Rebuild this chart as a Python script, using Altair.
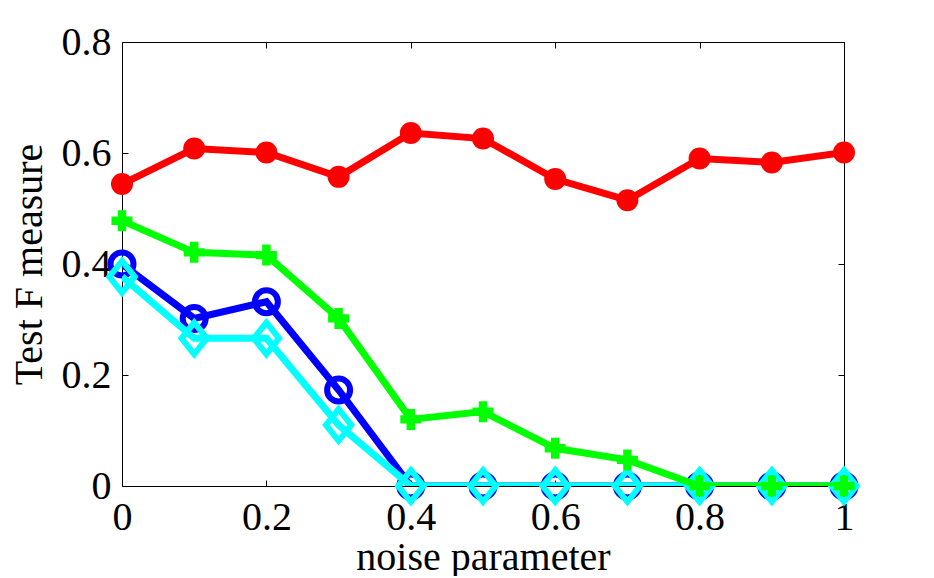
import altair as alt
import pandas as pd

noise = [0.0, 0.1, 0.2, 0.3, 0.4, 0.5, 0.6, 0.7, 0.8, 0.9, 1.0]
red_vals = [0.544, 0.608, 0.601, 0.557, 0.636, 0.626, 0.553, 0.515, 0.590, 0.583, 0.601]
blue_vals = [0.400, 0.302, 0.332, 0.173, 0.0, 0.0, 0.0, 0.0, 0.0, 0.0, 0.0]
cyan_vals = [0.377, 0.266, 0.266, 0.110, 0.0, 0.0, 0.0, 0.0, 0.0, 0.0, 0.0]
green_vals = [0.478, 0.421, 0.416, 0.302, 0.120, 0.134, 0.068, 0.047, 0.0, 0.0, 0.0]

x_ticks = [0, 0.2, 0.4, 0.6, 0.8, 1]
y_ticks = [0, 0.2, 0.4, 0.6, 0.8]

series = [
    ("red", red_vals, "#ff0000"),
    ("blue", blue_vals, "#0000ff"),
    ("cyan", cyan_vals, "#00ffff"),
    ("green", green_vals, "#00ff00"),
]

rows = []
for name, vals, _ in series:
    for x, y in zip(noise, vals):
        rows.append({"series": name, "noise": x, "f": y})
df = pd.DataFrame(rows)

FONT = "Liberation Serif"
x_scale = alt.Scale(domain=[0, 1], nice=False, zero=False)
y_scale = alt.Scale(domain=[0, 0.8], nice=False)

common = dict(domain=False, grid=False, ticks=True, tickSize=6, tickColor="black",
              tickWidth=1, offset=-6, labelFont=FONT, labelFontSize=40,
              labelColor="black", labelFlush=False, labelOverlap=False,
              titleFont=FONT, titleFontSize=40, titleFontWeight="normal",
              titleColor="black", format="~g")

x_bottom = alt.Axis(orient="bottom", values=x_ticks, title="noise parameter",
                    labelPadding=11, titlePadding=0, **common)
y_left = alt.Axis(orient="left", values=y_ticks, title="Test F measure",
                  labelPadding=11, titlePadding=12, **common)
x_top = alt.Axis(orient="top", values=x_ticks, labels=False, title=None, **common)
y_right = alt.Axis(orient="right", values=y_ticks, labels=False, title=None, **common)

diamond = "M0,-1L0.8,0L0,1L-0.8,0Z"
point_styles = {
    "red": dict(shape="circle", filled=True, size=484, strokeWidth=2),
    "blue": dict(shape="circle", filled=False, size=529, strokeWidth=6),
    "cyan": dict(shape=diamond, filled=False, size=1000, strokeWidth=6),
    "green": dict(shape="cross", filled=True, size=441, strokeWidth=1),
}

layers = []
for i, (name, vals, color) in enumerate(series):
    base = alt.Chart(df).transform_filter(alt.datum.series == name)
    if i == 0:
        xa_line, ya_line, xa_pt, ya_pt = x_bottom, y_left, x_top, y_right
    else:
        xa_line = ya_line = xa_pt = ya_pt = None
    line = base.mark_line(color=color, strokeWidth=7, clip=True).encode(
        x=alt.X("noise:Q", scale=x_scale, axis=xa_line),
        y=alt.Y("f:Q", scale=y_scale, axis=ya_line),
    )
    st = point_styles[name]
    if st["filled"]:
        pts = base.mark_point(color=color, fill=color, opacity=1, **st)
    else:
        pts = base.mark_point(color=color, opacity=1, **st)
    pts = pts.encode(
        x=alt.X("noise:Q", scale=x_scale, axis=xa_pt),
        y=alt.Y("f:Q", scale=y_scale, axis=ya_pt),
    )
    layers += [line, pts]

chart = alt.layer(*layers).resolve_axis(x="independent", y="independent").properties(
    width=722, height=444,
    autosize="none",
    padding={"left": 114, "top": 34, "right": 20, "bottom": 90},
).configure(background="white").configure_view(stroke="black", strokeWidth=1)

chart.save("out.html", embed_options={"renderer": "svg", "actions": False})
